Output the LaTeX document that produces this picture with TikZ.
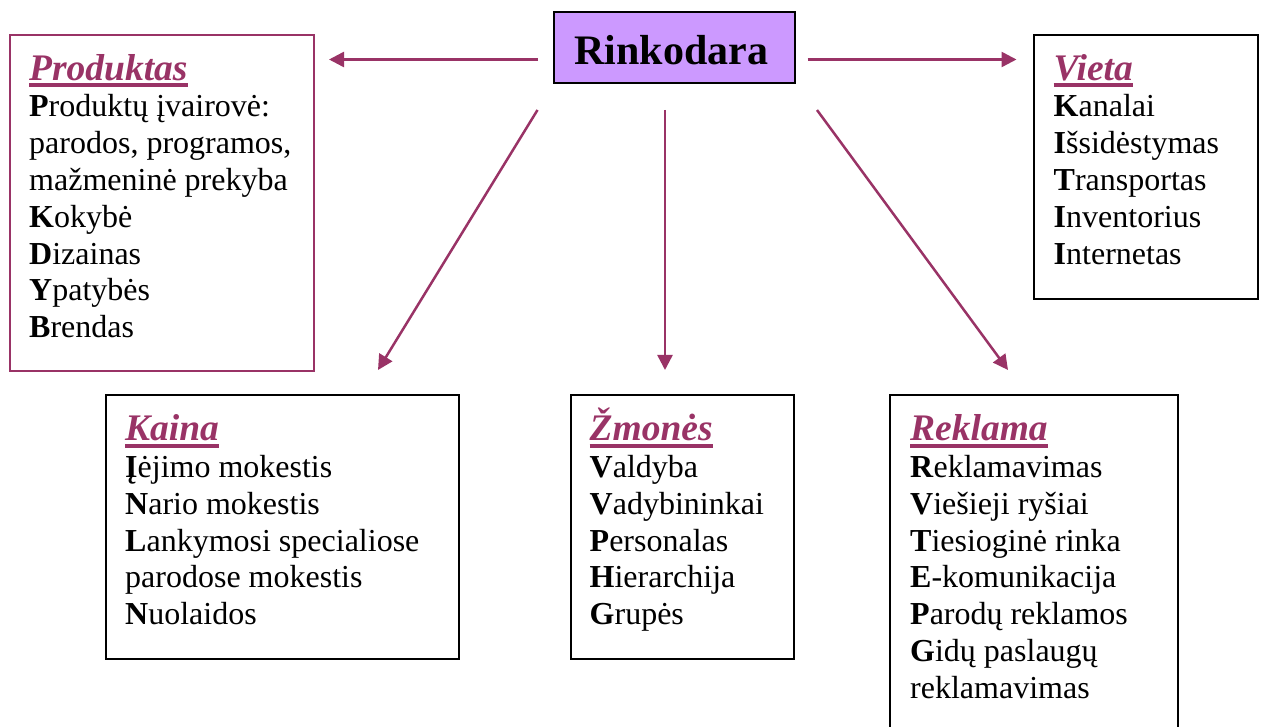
\documentclass[tikz,border=0pt]{standalone}
\usepackage{fontspec}
\setmainfont{Liberation Serif}
\usetikzlibrary{arrows.meta}
\definecolor{plum}{HTML}{993366}
\definecolor{lilac}{HTML}{CC99FF}
\newcommand{\hdtxt}[1]{\setbox0\hbox{{\fontsize{37.5}{40}\selectfont\bfseries\itshape\color{plum}#1\/}}\rlap{{\color{plum}\rule[-7pt]{\wd0}{4pt}}}\box0\rule{0pt}{40pt}}
\begin{document}
\begin{tikzpicture}[x=1pt,y=-1pt,
  box/.style={draw, line width=2pt, inner sep=0pt, anchor=north west},
  txt/.style={anchor=north west, inner sep=0pt, align=left, font=\fontsize{32}{36.8}\selectfont},
  arr/.style={draw=plum, line width=2.5pt, -{Triangle[length=15pt,width=15pt]}}]
\useasboundingbox (0,0) rectangle (1262,727);
\clip (0,0) rectangle (1262,727);
% boxes
\node[box, draw=plum, minimum width=304.5pt, minimum height=336pt] (prod) at (8.5,34.5) {};
\node[box, fill=lilac, minimum width=240.5pt, minimum height=71.5pt] (rinkbox) at (553,11) {};
\node[inner sep=0pt, text height=33pt, text depth=0pt, xshift=-3pt, font=\fontsize{42}{48}\selectfont\bfseries] (rink) at (rinkbox.center) {Rinkodara};
\node[box, minimum width=224pt, minimum height=263.5pt] (vieta) at (1033,34.5) {};
\node[box, minimum width=353pt, minimum height=263.5pt] (kaina) at (104.5,394.5) {};
\node[box, minimum width=223pt, minimum height=263.5pt] (zmon) at (569.5,394.5) {};
\node[box, minimum width=288pt, minimum height=360pt] (rekl) at (889,394.5) {};
% texts (top edge = first baseline - 40)
\node[txt] (prodt) at (29,40) {\hdtxt{Produktas}\\
\textbf{P}roduktų įvairovė:\\
parodos, programos,\\
mažmeninė prekyba\\
\textbf{K}okybė\\
\textbf{D}izainas\\
\textbf{Y}patybės\\
\textbf{B}rendas};
\node[txt] (vietat) at (1053.5,40) {\hdtxt{Vieta}\\
\textbf{K}analai\\
\textbf{I}šsidėstymas\\
\textbf{T}ransportas\\
\textbf{I}nventorius\\
\textbf{I}nternetas};
\node[txt] (kainat) at (125,400.5) {\hdtxt{Kaina}\\
\textbf{Į}ėjimo mokestis\\
\textbf{N}ario mokestis\\
\textbf{L}ankymosi specialiose\\
parodose mokestis\\
\textbf{N}uolaidos};
\node[txt] (zmont) at (589.5,400.5) {\hdtxt{Žmonės}\\
\textbf{V}aldyba\\
\textbf{V}adybininkai\\
\textbf{P}ersonalas\\
\textbf{H}ierarchija\\
\textbf{G}rupės};
\node[txt] (reklt) at (910,400.5) {\hdtxt{Reklama}\\
\textbf{R}eklamavimas\\
\textbf{V}iešieji ryšiai\\
\textbf{T}iesioginė rinka\\
\textbf{E}-komunikacija\\
\textbf{P}arodų reklamos\\
\textbf{G}idų paslaugų\\
reklamavimas};
% connector end points
\coordinate (aL0) at (538,59.5);
\coordinate (aL1) at (329,59.5);
\coordinate (aR0) at (807.5,59.5);
\coordinate (aR1) at (1016.5,59.5);
\coordinate (aDL0) at (537.5,110);
\coordinate (aDL1) at (378,370);
\coordinate (aD0) at (665,110);
\coordinate (aD1) at (665,370);
\coordinate (aDR0) at (817,110);
\coordinate (aDR1) at (1008,370);
\draw[arr] (aL0) -- (aL1);
\draw[arr] (aR0) -- (aR1);
\draw[arr] (aDL0) -- (aDL1);
\draw[arr] (aD0) -- (aD1);
\draw[arr] (aDR0) -- (aDR1);
\end{tikzpicture}
\end{document}
